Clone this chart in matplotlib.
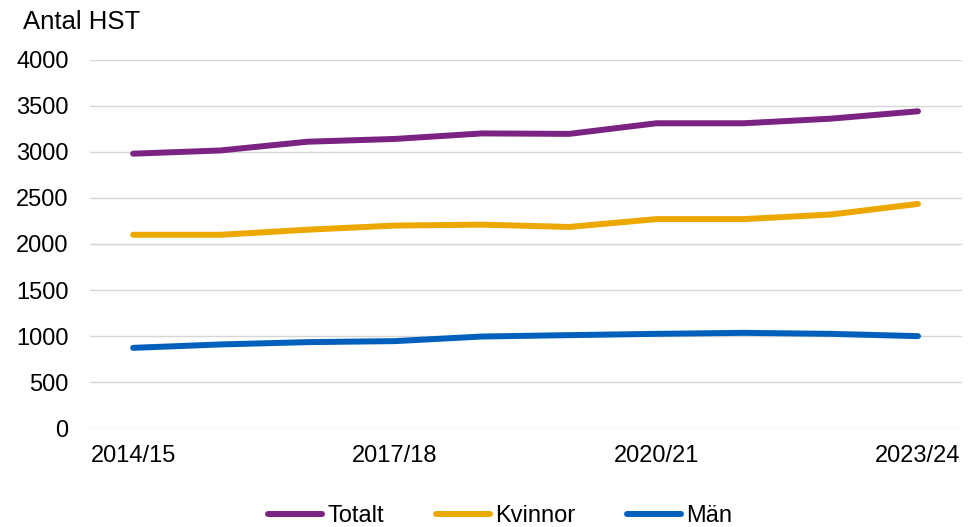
import matplotlib.pyplot as plt

years = ['2014/15', '2015/16', '2016/17', '2017/18', '2018/19',
         '2019/20', '2020/21', '2021/22', '2022/23', '2023/24']
totalt = [2980, 3015, 3110, 3140, 3200, 3195, 3310, 3310, 3360, 3440]
kvinnor = [2100, 2100, 2155, 2200, 2210, 2185, 2270, 2270, 2320, 2435]
man = [873, 910, 935, 946, 996, 1011, 1025, 1036, 1025, 1000]

plt.rcParams['font.family'] = ['Liberation Sans', 'DejaVu Sans']
FS = 17

fig = plt.figure(figsize=(9.76, 5.27), dpi=100)
ax = fig.add_axes([89.5/976, 1-428.3/527, (961.6-89.5)/976, (428.3-59.7)/527])

x = list(range(len(years)))
ax.plot(x, totalt, color='#7B2382', lw=4.3, solid_capstyle='round', solid_joinstyle='round', label='Totalt', zorder=3)
ax.plot(x, kvinnor, color='#EDA800', lw=4.3, solid_capstyle='round', solid_joinstyle='round', label='Kvinnor', zorder=3)
ax.plot(x, man, color='#0060BB', lw=4.3, solid_capstyle='round', solid_joinstyle='round', label='Män', zorder=3)

ax.set_xlim(-0.5, len(years)-0.5)
ax.set_ylim(0, 4000)
ax.set_yticks(range(0, 4001, 500))
ax.set_xticks([0, 3, 6, 9])
ax.set_xticklabels([years[i] for i in [0, 3, 6, 9]])
ax.tick_params(axis='both', length=0, labelsize=FS, colors='#000000')
ax.tick_params(axis='y', pad=15)
ax.tick_params(axis='x', pad=12)
ax.grid(axis='y', color='#D6D6D6', lw=1.0)
ax.set_axisbelow(True)
for s in ax.spines.values():
    s.set_visible(False)

fig.text(23/976, 1-29/527, 'Antal HST', fontsize=18.5, ha='left', va='baseline')

fig.legend(loc='center', bbox_to_anchor=(500/976, 11/527), ncol=3, frameon=False,
           fontsize=FS, handlelength=2.3, handletextpad=0.2, columnspacing=2.2,
           borderaxespad=0, borderpad=0)

fig.savefig('out.png', dpi=100)
